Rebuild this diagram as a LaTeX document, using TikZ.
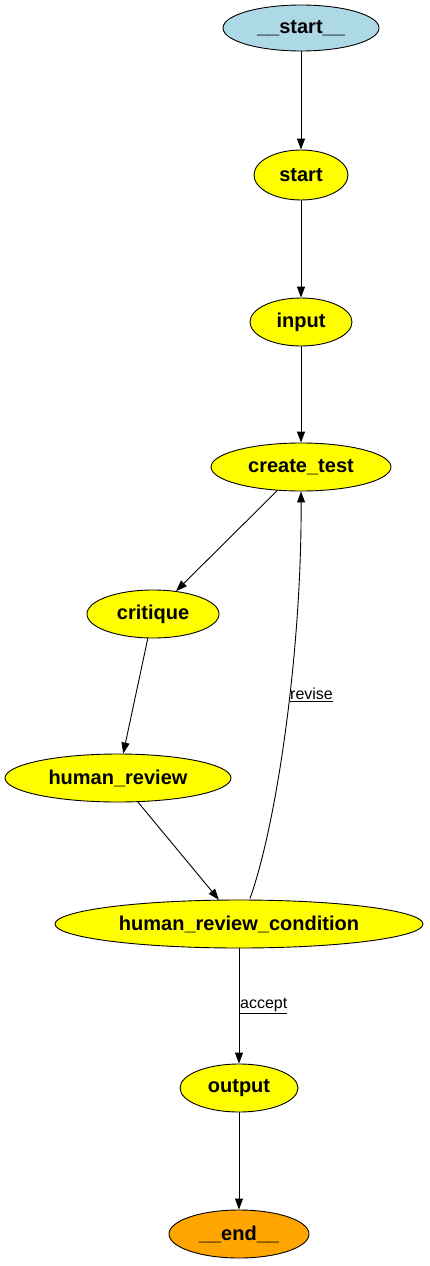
\documentclass[tikz,border=0pt]{standalone}
\usepackage{fontspec}
\setmainfont{Liberation Sans}
\usetikzlibrary{shapes.geometric,arrows.meta}
\definecolor{startblue}{HTML}{ADD8E6}
\definecolor{endorange}{HTML}{FFA500}
\definecolor{nodeyellow}{HTML}{FFFF00}
\tikzset{
  gnode/.style={ellipse, draw=black, line width=0.9pt, inner sep=0pt, minimum height=48pt,
    font=\fontsize{20}{22}\selectfont\bfseries, fill=nodeyellow},
  edge/.style={draw=black, line width=0.9pt, -{Triangle[length=11pt,width=8pt]}},
  elabel/.style={font=\fontsize{16}{18}\selectfont, inner sep=0pt, anchor=west}
}
\begin{document}
\begin{tikzpicture}[x=1pt,y=-1pt]
\useasboundingbox (0,0) rectangle (430,1266);
\node[gnode, fill=startblue, minimum width=156pt, minimum height=46pt] (s0) at (301,28) {\_\_start\_\_};
\node[gnode, minimum width=94pt, minimum height=50pt] (start) at (301,175) {start};
\node[gnode, minimum width=102pt] (input) at (301,322) {input};
\node[gnode, minimum width=180pt] (ct) at (301,467) {create\_test};
\node[gnode, minimum width=132pt] (cr) at (153,614) {critique};
\node[gnode, minimum width=226pt] (hr) at (118,778) {human\_review};
\node[gnode, minimum width=368pt] (hrc) at (239,924) {human\_review\_condition};
\node[gnode, minimum width=118pt] (out) at (239,1088) {output};
\node[gnode, fill=endorange, minimum width=140pt] (end) at (239,1234) {\_\_end\_\_};

\draw[edge] (s0) -- (start);
\draw[edge] (start) -- (input);
\draw[edge] (input) -- (ct);
\draw[edge] (ct) -- (cr);
\draw[edge] (cr) -- (hr);
\draw[edge] (hr) -- (hrc);
\draw[edge] ([xshift=11pt,yshift=1pt]hrc.north) .. controls +(28,-79) and +(1,153) .. (ct.south);
\node[elabel] (lrev) at (290,695) {\underline{revise}};
\draw[edge] (hrc) -- (out);
\node[elabel] (lacc) at (240,1006) {\underline{accept}};
\draw[edge] (out) -- (end);
\end{tikzpicture}
\end{document}
